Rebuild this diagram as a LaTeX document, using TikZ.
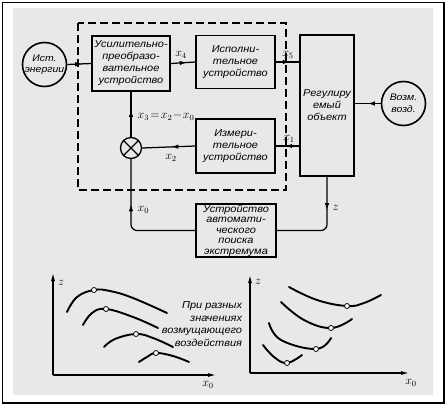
\documentclass[tikz,border=0pt]{standalone}
\usepackage{fontspec}
\setmainfont{Liberation Sans}
\newfontfamily\wide{Liberation Sans}[FakeStretch=1.1]
\usetikzlibrary{arrows.meta,decorations.markings}
\begin{document}
\begin{tikzpicture}[x=1pt,y=-1pt,
  line width=1.25pt,
  txt/.style={font=\wide\itshape\fontsize{10}{12}\selectfont, align=center},
  box/.style={draw, line width=1.6pt, inner sep=0pt, txt},
  circ/.style={draw, circle, line width=1.6pt, inner sep=0pt, minimum size=44pt, txt, font=\wide\itshape\fontsize{9.5}{11.5}\selectfont},
  lab/.style={font=\fontsize{12}{13}\selectfont, inner sep=1pt},
  midarrow/.style={postaction={decorate}, decoration={markings,
     mark=at position #1 with {\arrow{Latex[length=7pt,width=4.5pt]}}}},
  curve/.style={line width=1.9pt, line cap=round},
  dot/.style={draw, circle, fill=white, line width=0.8pt, inner sep=0pt, minimum size=5pt},
  axis/.style={line width=1.1pt, -{Latex[length=8pt,width=4pt]}}
]
\useasboundingbox (0,0) rectangle (448,407);
\fill[white] (0,0) rectangle (448,407);
\fill[black!9] (13,8) rectangle (433,395);
\draw[line width=1.5pt] (2.5,2.5) rectangle (444,403);

% dashed block
\draw[dashed, dash pattern=on 8pt off 4pt, line width=1.3pt] (78,23) rectangle (286,190);

% nodes
\node[circ] (ist) at (44.5,64.5) {Ист.\\энергии};
\node[box, minimum width=78pt, minimum height=55pt] (b1) at (131,63.5)
  {Усилительно-\\преобразо-\\вательное\\устройство};
\node[box, minimum width=79pt, minimum height=53pt] (b2) at (235.5,62)
  {Исполни-\\тельное\\устройство};
\node[box, minimum width=54pt, minimum height=141pt] (obj) at (327,105.5)
  {Регулиру\\емый\\объект};
\node[circ] (vozm) at (403.5,103.5) {Возм.\\возд.};
\node[box, minimum width=79pt, minimum height=54pt] (b3) at (235.5,146)
  {Измери-\\тельное\\устройство};
\node[draw, circle, line width=1.3pt, minimum size=21pt, inner sep=0pt] (sum) at (131,148) {};
\draw[line width=1.2pt] (sum.north west) -- (sum.south east) (sum.north east) -- (sum.south west);
\node[box, minimum width=80pt, minimum height=53pt, font=\wide\itshape\fontsize{10}{10.5}\selectfont] (b4) at (236,230.5)
  {Устройство\\автомати-\\ческого\\поиска\\экстремума};

% connectors
\draw[midarrow=0.62] (ist.east) -- (b1.west);
\draw[midarrow=0.65] (b1.east) -- (b2.west);
\draw[midarrow=0.6] (b2.east) -- (b2.east -| obj.west);
\draw[midarrow=0.5] (vozm.west) -- (vozm.west -| obj.east);
\draw[midarrow=0.6] (obj.west |- b3.east) -- (b3.east);
\draw[midarrow=0.45] (b3.west) -- (sum.east);
\draw[midarrow=0.6] (sum.north) -- (b1.south);
\coordinate (zc) at (327,230.5);
\coordinate (x0c) at (131,230.5);
\draw[midarrow=0.33, rounded corners=6pt] (obj.south) -- (zc) -- (b4.east);
\draw[midarrow=0.66, rounded corners=6pt] (b4.west) -- (x0c) -- (sum.south);

% labels
\node[lab] (l4) at (181,55) {$x_4$};
\node[lab] (l5) at (288,55) {$x_5$};
\node[lab] (l1) at (289,139) {$x_1$};
\node[lab] (l2) at (171,158) {$x_2$};
\node[lab, anchor=west] (l3) at (136,116) {$x_3\!=\!x_2\!-\!x_0$};
\node[lab, anchor=west] (l0) at (136,210) {$x_0$};
\node[lab, anchor=west] (lz) at (331,208) {$z$};

% left graph
\coordinate (o1) at (53,375);
\draw[axis] (o1) -- (53,273);
\draw[axis] (o1) -- (216,375);
\node[lab] (z1) at (61,283) {$z$};
\node[lab] (xa) at (208,385) {$x_0$};
\draw[curve] plot[smooth, tension=0.7] coordinates {(67,312) (77,297) (94,290) (110,291) (133,298) (167,313)};
\draw[curve] plot[smooth, tension=0.7] coordinates {(83,325) (92,313) (106,309) (133,317) (158,328)};
\draw[curve] plot[smooth, tension=0.7] coordinates {(104,347) (115,339) (136,334) (153,338) (173,347)};
\draw[curve] plot[smooth, tension=0.7] coordinates {(139,362) (147,357) (156,353) (173,356) (189,362)};
\node[dot] (m1) at (94,290) {};
\node[dot] (m2) at (106,309) {};
\node[dot] (m3) at (136,334) {};
\node[dot] (m4) at (156,353) {};
\node[txt, align=right, anchor=east, font=\wide\itshape\fontsize{10}{12.5}\selectfont] (note) at (246,324)
  {При разных\\значениях\\возмущающего\\воздействия};

% right graph
\coordinate (o2) at (250,373);
\draw[axis] (o2) -- (250,275);
\draw[axis] (o2) -- (409,373);
\node[lab] (z2) at (258,282) {$z$};
\node[lab] (xb) at (411,383) {$x_0$};
\draw[curve] plot[smooth, tension=0.7] coordinates {(289,287) (317,300) (347,306) (364,303) (381,295)};
\draw[curve] plot[smooth, tension=0.7] coordinates {(281,302) (304,320) (331,328) (352,319)};
\draw[curve] plot[smooth, tension=0.7] coordinates {(269,323) (281,340) (316,349) (331,338)};
\draw[curve] plot[smooth, tension=0.7] coordinates {(263,345) (274,357) (287,363) (302,355)};
\node[dot] (n1) at (347,306) {};
\node[dot] (n2) at (331,328) {};
\node[dot] (n3) at (316,349) {};
\node[dot] (n4) at (287,363) {};
\end{tikzpicture}
\end{document}
